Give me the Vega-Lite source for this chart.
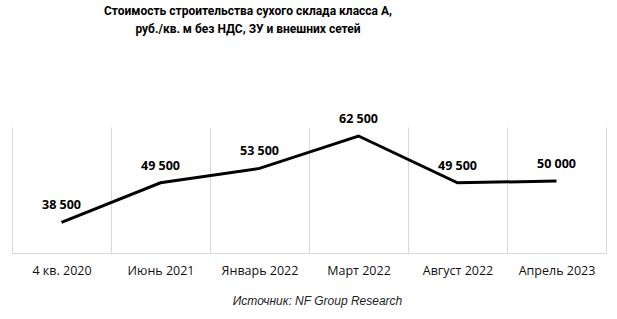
{
  "$schema": "https://vega.github.io/schema/vega-lite/v6.json",
  "width": 594,
  "height": 126,
  "autosize": {"type": "none"},
  "padding": {"left": 12, "top": 127, "right": 11, "bottom": 66},
  "background": "#ffffff",
  "config": {
    "view": {"stroke": null},
    "locale": {"number": {"decimal": ",", "thousands": " ", "grouping": [3], "currency": ["", " ₽"]}}
  },
  "title": {
    "text": ["Стоимость строительства сухого склада класса А,", "руб./кв. м без НДС, ЗУ и внешних сетей"],
    "font": "Roboto",
    "fontSize": 12,
    "fontWeight": "bold",
    "color": "#000000",
    "anchor": "middle",
    "dx": -61,
    "offset": 77,
    "lineHeight": 18
  },
  "data": {
    "values": [
      {"period": "4 кв. 2020", "value": 38500},
      {"period": "Июнь 2021", "value": 49500},
      {"period": "Январь 2022", "value": 53500},
      {"period": "Март 2022", "value": 62500},
      {"period": "Август 2022", "value": 49500},
      {"period": "Апрель 2023", "value": 50000}
    ]
  },
  "encoding": {
    "x": {
      "field": "period",
      "type": "ordinal",
      "sort": null,
      "scale": {"paddingInner": 0, "paddingOuter": 0},
      "axis": {
        "title": "Источник: NF Group Research",
        "titleFont": "Liberation Sans",
        "titleFontStyle": "italic",
        "titleFontWeight": "normal",
        "titleFontSize": 12,
        "titleColor": "#222222",
        "titlePadding": 19,
        "titleX": 305,
        "labelAngle": 0,
        "labelFont": "Open Sans",
        "labelFontSize": 12.5,
        "labelColor": "#111111",
        "labelPadding": 11,
        "ticks": false,
        "tickSize": 0,
        "tickBand": "extent",
        "grid": true,
        "gridColor": "#d9d9d9",
        "gridWidth": 1,
        "domainColor": "#d9d9d9",
        "domainWidth": 1
      }
    },
    "y": {
      "field": "value",
      "type": "quantitative",
      "scale": {"domain": [30000, 65000], "nice": false, "zero": false},
      "axis": null
    }
  },
  "layer": [
    {"mark": {"type": "line", "color": "#000000", "strokeWidth": 3}},
    {
      "mark": {"type": "text", "dy": -17, "font": "Open Sans", "fontSize": 12.5, "fontWeight": "bold", "color": "#000000"},
      "encoding": {"text": {"field": "value", "type": "quantitative", "format": ",d"}}
    }
  ]
}
